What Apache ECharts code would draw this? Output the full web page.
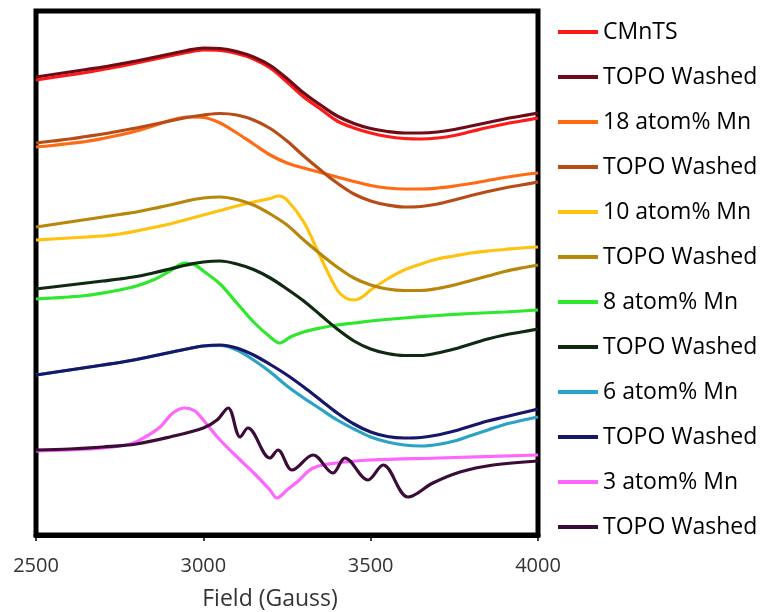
<!DOCTYPE html>
<html>
<head>
<meta charset="utf-8">
<title>EPR spectra</title>
<script src="https://cdn.jsdelivr.net/npm/echarts@6/dist/echarts.min.js"></script>
<style>
  html, body { margin: 0; padding: 0; background: #fff; }
  #chart { width: 766px; height: 612px; }
</style>
</head>
<body>
<div id="chart"></div>
<script>
// Field axis ticks (Gauss)
const fieldTicks = [2500, 3000, 3500, 4000];

// Legend entries, top to bottom
const legendLabels = [
  'CMnTS', 'TOPO Washed',
  '18 atom% Mn', 'TOPO Washed',
  '10 atom% Mn', 'TOPO Washed',
  '8 atom% Mn', 'TOPO Washed',
  '6 atom% Mn', 'TOPO Washed',
  '3 atom% Mn', 'TOPO Washed'
];

// Field sampling (G) shared by the broad derivative lines
const fieldGrid = [2500, 2550, 2600, 2650, 2700, 2750, 2800, 2850, 2900, 2950,
                   3000, 3050, 3100, 3150, 3200, 3250, 3300, 3350, 3400, 3450,
                   3500, 3550, 3600, 3650, 3700, 3750, 3800, 3850, 3900, 3950, 4000];

// Signals on fieldGrid (a.u., stacked with vertical offsets)
const cmntsSignal       = [455, 457.5, 460, 462.5, 465.5, 468.5, 472, 475.5, 479, 482.5, 485, 484.5, 481.5, 476, 467, 453, 438, 426, 414, 407, 402, 398.5, 396.5, 396, 397, 399.5, 403.5, 407.5, 411, 414, 417];
const cmntsWashedSignal = [458, 460.5, 463, 465.5, 468, 471, 474, 477.5, 481, 484.5, 487, 486.5, 483.5, 478, 469.5, 456.5, 442, 430, 419, 411.5, 406.5, 403.5, 402, 402, 403, 405.5, 409, 412.5, 416, 419, 422];
const mn18Signal        = [388, 389.5, 391.5, 393.5, 396.5, 400, 404, 409, 414.5, 418, 417.5, 412, 402, 391, 380, 372, 367, 362.5, 358, 353.5, 349.5, 347, 346, 346, 347, 349, 351.5, 354.5, 357.5, 360, 362];
const mn18WashedSignal  = [392, 394, 396, 398.5, 401, 404, 407, 410.5, 414, 417.5, 420, 421.5, 420, 415, 406.5, 394, 379, 365, 352, 341, 334, 330, 328, 328.5, 331, 335, 339.5, 343.5, 347, 350, 353];
const mn10WashedSignal  = [308, 310.5, 313, 315.5, 318, 320.5, 323, 326.5, 330, 334, 337, 338, 335.5, 330, 321, 310, 295, 281, 268, 257, 250, 246, 244.5, 244.5, 246.5, 250, 254.5, 259, 263.5, 267, 270];
const mn8WashedSignal   = [246, 248, 250, 252, 254, 256, 258.5, 262, 266, 270, 273, 274, 271, 265.5, 257, 246, 234, 220, 206, 194, 186, 181.5, 179.5, 179.5, 182, 186, 191, 196, 200, 203, 206];
const mn6Signal         = [160, 162.5, 165, 167.5, 170, 172.5, 175.5, 179, 182.5, 186, 189, 189.5, 185, 175, 163, 149, 137, 126, 115, 106, 98, 93, 90, 89, 90.5, 94, 99.5, 105, 110.5, 114.5, 118];
const mn6WashedSignal   = [160, 162.5, 165, 167.5, 170, 172.5, 175.5, 179, 182.5, 186, 189, 190, 187, 180, 170.5, 160, 148, 135, 122, 111, 103, 98.5, 97, 97.5, 100, 104, 109, 114, 118, 122, 126];

// Lines with sharp turns, as [field (G), signal]
const mn10 = [[2500,295],[2550,296],[2600,297],[2650,298],[2700,299],[2750,301],[2800,304],[2850,307.5],[2900,311],[2950,315.5],[3000,320],[3050,324.5],[3100,329],[3150,333],[3200,336.5],[3225,339],[3250,335],[3300,313],[3350,278],[3400,245],[3425,237],[3450,235],[3475,238],[3500,245],[3550,256],[3600,265],[3650,271],[3700,276],[3750,279],[3800,282],[3850,284],[3900,285.5],[3950,287],[4000,288]];
const mn8 = [[2500,236],[2550,237],[2600,238],[2650,239.5],[2700,242],[2750,245],[2800,249],[2850,255],[2900,264],[2945,272],[2975,270],[3000,264],[3050,251],[3100,232],[3150,213],[3200,198],[3229,192],[3260,198],[3300,203],[3350,207],[3400,210],[3450,212],[3500,214],[3600,217],[3700,219.5],[3800,221.5],[3900,223],[4000,225]];
const mn3 = [[2500,84],[2600,85],[2700,87],[2781,91],[2826,98],[2871,108],[2909,122],[2945,127],[2975,124],[3000,115],[3050,95],[3101,78],[3154,61],[3199,45],[3220,37],[3250,45],[3280,53],[3328,67],[3399,72],[3500,75],[3700,77],[4000,80]];
const mn3Washed = [[2500,85],[2600,86],[2700,88],[2800,91],[2900,98],[3000,107],[3041,115],[3074,127],[3110,98],[3133,107],[3199,77],[3223,85],[3265,65],[3328,80],[3387,62],[3423,77],[3492,55],[3537,70],[3612,38],[3686,52],[3767,63],[3866,70],[4000,74]];

const onGrid = signal => signal.map((s, i) => [fieldGrid[i], s]);

const spectra = [
  onGrid(cmntsSignal), onGrid(cmntsWashedSignal),
  onGrid(mn18Signal), onGrid(mn18WashedSignal),
  mn10, onGrid(mn10WashedSignal),
  mn8, onGrid(mn8WashedSignal),
  onGrid(mn6Signal), onGrid(mn6WashedSignal),
  mn3, mn3Washed
];
const sampleKeys = ['CMnTS', 'CMnTS', '18', '18', '10', '10', '8', '8', '6', '6', '3', '3'];

const colors = [
  '#ff1a1a', '#6e0b16',
  '#ff6a14', '#b84c16',
  '#ffc20e', '#b8860b',
  '#2ee82e', '#0f2a10',
  '#2aa3c6', '#16166a',
  '#ff66ff', '#3a0c36'
];

// Unique series names keep every legend row separate; the formatter shows the label.
const seriesNames = legendLabels.map((lab, i) => lab === 'TOPO Washed' ? sampleKeys[i] + ' · TOPO Washed' : lab);
const labelByName = {};
seriesNames.forEach((n, i) => { labelByName[n] = legendLabels[i]; });

const chart = echarts.init(document.getElementById('chart'), null, { renderer: 'canvas' });

const option = {
  backgroundColor: '#ffffff',
  animation: false,
  color: colors,
  grid: {
    left: 36, top: 11, right: 228, bottom: 77,
    outerBoundsMode: 'none',
    containLabel: false,
    show: true,
    borderColor: '#000',
    borderWidth: 5,
    backgroundColor: 'transparent'
  },
  legend: {
    orient: 'vertical',
    left: 558,
    top: 20,
    icon: 'rect',
    itemWidth: 40,
    itemHeight: 4,
    itemGap: 21,
    padding: 0,
    data: seriesNames,
    formatter: name => labelByName[name],
    textStyle: {
      fontFamily: '"Open Sans", sans-serif',
      fontSize: 23,
      lineHeight: 24,
      color: '#000'
    }
  },
  xAxis: {
    type: 'value',
    min: fieldTicks[0],
    max: fieldTicks[fieldTicks.length - 1],
    interval: fieldTicks[1] - fieldTicks[0],
    name: 'Field (Gauss)',
    nameLocation: 'middle',
    nameGap: 53,
    nameTextStyle: {
      fontFamily: '"Open Sans", sans-serif',
      fontSize: 23,
      color: '#333',
      padding: [0, 34, 0, 0]
    },
    axisLine: { show: true, lineStyle: { color: '#000', width: 5 } },
    axisTick: { show: true, inside: false, length: 6, lineStyle: { color: '#000', width: 1.5 } },
    axisLabel: {
      margin: 21,
      fontFamily: '"Open Sans", sans-serif',
      fontSize: 20,
      color: '#333',
      formatter: v => String(v)
    },
    splitLine: { show: false }
  },
  yAxis: {
    type: 'value',
    min: 0,
    max: 524,
    show: false,
    splitLine: { show: false }
  },
  series: spectra.map((d, i) => ({
    name: seriesNames[i],
    type: 'line',
    data: d,
    smooth: 0.35,
    showSymbol: false,
    symbol: 'none',
    lineStyle: { width: 3.2, color: colors[i] },
    itemStyle: { color: colors[i] },
    z: 2 + i
  }))
};

chart.setOption(option);
</script>
</body>
</html>
